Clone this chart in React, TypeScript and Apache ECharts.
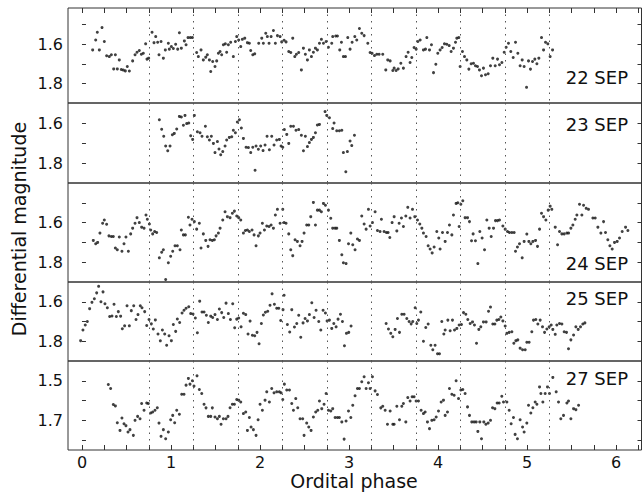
import React, { useEffect, useRef } from "react";
import * as echarts from "echarts";

const sep22: number[][] = [[0.120,1.629],[0.154,1.578],[0.172,1.539],[0.195,1.629],[0.225,1.515],[0.251,1.586],[0.277,1.659],[0.307,1.663],[0.330,1.654],[0.356,1.726],[0.375,1.654],[0.397,1.726],[0.419,1.680],[0.442,1.729],[0.464,1.732],[0.487,1.736],[0.509,1.714],[0.532,1.737],[0.569,1.685],[0.596,1.654],[0.618,1.641],[0.644,1.632],[0.667,1.651],[0.689,1.646],[0.715,1.598],[0.730,1.676],[0.749,1.671],[0.787,1.539],[0.809,1.592],[0.828,1.561],[0.850,1.590],[0.865,1.654],[0.888,1.586],[0.914,1.671],[0.936,1.629],[0.970,1.595],[0.981,1.625],[1.004,1.612],[1.026,1.622],[1.052,1.600],[1.075,1.625],[1.094,1.541],[1.116,1.620],[1.150,1.583],[1.169,1.603],[1.191,1.566],[1.217,1.566],[1.240,1.566],[1.288,1.642],[1.307,1.663],[1.337,1.629],[1.363,1.680],[1.390,1.666],[1.408,1.654],[1.431,1.680],[1.446,1.739],[1.468,1.688],[1.494,1.714],[1.513,1.685],[1.532,1.646],[1.551,1.637],[1.569,1.654],[1.588,1.603],[1.610,1.598],[1.625,1.641],[1.644,1.603],[1.670,1.590],[1.700,1.663],[1.723,1.586],[1.738,1.561],[1.760,1.578],[1.783,1.612],[1.801,1.575],[1.828,1.569],[1.858,1.592],[1.880,1.595],[1.895,1.632],[1.918,1.654],[1.940,1.649],[1.985,1.595],[2.019,1.569],[2.037,1.595],[2.064,1.544],[2.082,1.561],[2.101,1.595],[2.124,1.561],[2.150,1.530],[2.172,1.595],[2.195,1.556],[2.225,1.561],[2.243,1.588],[2.270,1.580],[2.292,1.588],[2.322,1.637],[2.345,1.642],[2.367,1.569],[2.390,1.663],[2.408,1.651],[2.434,1.642],[2.464,1.731],[2.487,1.620],[2.509,1.651],[2.532,1.680],[2.554,1.629],[2.577,1.663],[2.599,1.641],[2.622,1.620],[2.644,1.629],[2.667,1.595],[2.689,1.575],[2.712,1.595],[2.742,1.586],[2.768,1.615],[2.805,1.595],[2.816,1.561],[2.850,1.558],[2.869,1.558],[2.895,1.629],[2.914,1.590],[2.936,1.663],[2.959,1.663],[2.985,1.566],[3.011,1.625],[3.034,1.590],[3.064,1.561],[3.086,1.578],[3.116,1.520],[3.142,1.544],[3.169,1.556],[3.210,1.595],[3.236,1.642],[3.258,1.646],[3.285,1.658],[3.311,1.651],[3.337,1.651],[3.378,1.651],[3.412,1.731],[3.434,1.680],[3.461,1.685],[3.491,1.734],[3.506,1.722],[3.528,1.734],[3.551,1.726],[3.581,1.697],[3.610,1.722],[3.640,1.663],[3.663,1.641],[3.685,1.693],[3.704,1.668],[3.730,1.617],[3.753,1.625],[3.772,1.586],[3.798,1.578],[3.835,1.629],[3.858,1.625],[3.873,1.566],[3.903,1.629],[3.925,1.603],[3.948,1.745],[3.974,1.702],[3.996,1.646],[4.022,1.629],[4.045,1.617],[4.071,1.598],[4.097,1.600],[4.124,1.607],[4.146,1.637],[4.172,1.620],[4.195,1.590],[4.210,1.569],[4.232,1.566],[4.247,1.714],[4.273,1.637],[4.296,1.663],[4.322,1.680],[4.345,1.727],[4.371,1.700],[4.397,1.697],[4.419,1.710],[4.442,1.714],[4.464,1.731],[4.487,1.761],[4.509,1.722],[4.532,1.756],[4.562,1.751],[4.588,1.710],[4.614,1.671],[4.641,1.710],[4.667,1.676],[4.689,1.705],[4.716,1.693],[4.742,1.641],[4.764,1.615],[4.790,1.595],[4.816,1.637],[4.843,1.668],[4.869,1.590],[4.895,1.646],[4.921,1.710],[4.944,1.680],[4.966,1.714],[4.993,1.820],[5.015,1.685],[5.037,1.727],[5.060,1.688],[5.086,1.676],[5.109,1.700],[5.131,1.671],[5.161,1.566],[5.184,1.629],[5.206,1.590],[5.232,1.598],[5.258,1.663],[5.285,1.629]];

const sep23: number[][] = [[0.869,1.584],[0.895,1.631],[0.918,1.666],[0.940,1.715],[0.963,1.739],[0.989,1.715],[1.015,1.659],[1.037,1.652],[1.064,1.630],[1.094,1.567],[1.116,1.570],[1.139,1.611],[1.157,1.562],[1.176,1.603],[1.199,1.600],[1.221,1.664],[1.243,1.682],[1.262,1.562],[1.296,1.644],[1.326,1.649],[1.348,1.666],[1.386,1.616],[1.408,1.669],[1.431,1.685],[1.453,1.666],[1.476,1.702],[1.494,1.748],[1.521,1.693],[1.539,1.730],[1.558,1.759],[1.581,1.743],[1.607,1.715],[1.625,1.685],[1.655,1.672],[1.682,1.669],[1.700,1.636],[1.723,1.649],[1.745,1.595],[1.768,1.584],[1.790,1.625],[1.813,1.677],[1.843,1.721],[1.869,1.723],[1.895,1.748],[1.918,1.721],[1.944,1.836],[1.955,1.715],[1.981,1.731],[2.007,1.715],[2.034,1.738],[2.056,1.710],[2.079,1.666],[2.105,1.734],[2.131,1.666],[2.157,1.710],[2.187,1.685],[2.217,1.682],[2.236,1.715],[2.255,1.721],[2.273,1.633],[2.300,1.657],[2.322,1.702],[2.345,1.616],[2.375,1.616],[2.404,1.636],[2.434,1.633],[2.464,1.661],[2.487,1.739],[2.509,1.666],[2.532,1.718],[2.554,1.698],[2.577,1.682],[2.599,1.672],[2.622,1.649],[2.644,1.610],[2.667,1.607],[2.730,1.543],[2.749,1.562],[2.779,1.574],[2.816,1.628],[2.831,1.600],[2.861,1.639],[2.891,1.639],[2.918,1.636],[2.936,1.748],[2.963,1.844],[2.981,1.743],[3.011,1.690],[3.030,1.713],[3.060,1.661]];

const sep24: number[][] = [[0.127,1.690],[0.154,1.707],[0.176,1.700],[0.202,1.653],[0.232,1.603],[0.251,1.587],[0.277,1.608],[0.303,1.667],[0.330,1.670],[0.352,1.670],[0.375,1.728],[0.397,1.737],[0.419,1.673],[0.449,1.745],[0.472,1.707],[0.494,1.673],[0.521,1.745],[0.547,1.657],[0.569,1.628],[0.596,1.603],[0.618,1.575],[0.644,1.600],[0.670,1.623],[0.697,1.628],[0.719,1.562],[0.734,1.583],[0.757,1.607],[0.772,1.637],[0.794,1.657],[0.816,1.645],[0.839,1.650],[0.869,1.778],[0.895,1.750],[0.914,1.737],[0.940,1.887],[0.970,1.803],[0.996,1.770],[1.019,1.745],[1.045,1.717],[1.071,1.717],[1.101,1.737],[1.116,1.637],[1.139,1.662],[1.161,1.662],[1.195,1.573],[1.213,1.612],[1.236,1.583],[1.262,1.595],[1.288,1.633],[1.318,1.603],[1.337,1.728],[1.363,1.657],[1.390,1.690],[1.416,1.720],[1.438,1.687],[1.464,1.690],[1.487,1.687],[1.506,1.667],[1.532,1.653],[1.551,1.628],[1.581,1.587],[1.607,1.545],[1.633,1.570],[1.663,1.575],[1.689,1.553],[1.712,1.542],[1.738,1.567],[1.760,1.575],[1.783,1.587],[1.813,1.653],[1.835,1.640],[1.858,1.637],[1.880,1.645],[1.910,1.637],[1.933,1.662],[1.955,1.717],[1.981,1.667],[2.000,1.653],[2.026,1.603],[2.049,1.637],[2.075,1.617],[2.101,1.620],[2.124,1.612],[2.150,1.628],[2.172,1.562],[2.195,1.533],[2.225,1.603],[2.255,1.533],[2.270,1.600],[2.292,1.603],[2.322,1.657],[2.345,1.737],[2.367,1.767],[2.393,1.687],[2.419,1.695],[2.449,1.717],[2.472,1.695],[2.494,1.653],[2.524,1.612],[2.547,1.612],[2.569,1.570],[2.599,1.498],[2.622,1.612],[2.644,1.537],[2.667,1.537],[2.689,1.545],[2.712,1.503],[2.734,1.512],[2.768,1.537],[2.794,1.578],[2.816,1.628],[2.843,1.628],[2.861,1.628],[2.891,1.690],[2.918,1.762],[2.936,1.803],[2.966,1.807],[2.993,1.707],[3.019,1.653],[3.041,1.712],[3.067,1.737],[3.094,1.683],[3.116,1.690],[3.142,1.567],[3.169,1.607],[3.191,1.633],[3.217,1.533],[3.236,1.617],[3.262,1.600],[3.292,1.545],[3.318,1.640],[3.348,1.645],[3.363,1.583],[3.393,1.645],[3.419,1.650],[3.438,1.650],[3.457,1.675],[3.483,1.600],[3.506,1.570],[3.536,1.642],[3.562,1.603],[3.588,1.577],[3.610,1.620],[3.637,1.567],[3.659,1.523],[3.685,1.577],[3.712,1.533],[3.738,1.570],[3.768,1.587],[3.794,1.607],[3.817,1.628],[3.835,1.653],[3.865,1.670],[3.888,1.717],[3.910,1.733],[3.933,1.753],[3.955,1.723],[3.985,1.645],[4.007,1.678],[4.022,1.733],[4.049,1.650],[4.079,1.695],[4.105,1.650],[4.127,1.612],[4.154,1.662],[4.172,1.562],[4.202,1.503],[4.221,1.500],[4.236,1.620],[4.255,1.507],[4.277,1.490],[4.303,1.575],[4.330,1.575],[4.352,1.595],[4.375,1.692],[4.393,1.657],[4.419,1.692],[4.446,1.807],[4.468,1.645],[4.494,1.678],[4.521,1.737],[4.547,1.587],[4.573,1.628],[4.596,1.670],[4.622,1.628],[4.644,1.590],[4.667,1.590],[4.689,1.587],[4.727,1.617],[4.753,1.633],[4.779,1.645],[4.801,1.650],[4.828,1.650],[4.854,1.650],[4.869,1.745],[4.891,1.723],[4.914,1.707],[4.944,1.778],[4.966,1.695],[4.996,1.658],[5.019,1.695],[5.041,1.707],[5.064,1.695],[5.094,1.690],[5.116,1.720],[5.139,1.633],[5.161,1.553],[5.184,1.570],[5.210,1.587],[5.236,1.537],[5.258,1.517],[5.277,1.533],[5.315,1.623],[5.341,1.712],[5.363,1.645],[5.390,1.657],[5.416,1.657],[5.446,1.653],[5.465,1.653],[5.491,1.628],[5.513,1.612],[5.539,1.583],[5.558,1.562],[5.588,1.507],[5.614,1.562],[5.633,1.512],[5.663,1.528],[5.689,1.533],[5.738,1.577],[5.764,1.577],[5.794,1.623],[5.828,1.653],[5.858,1.595],[5.880,1.650],[5.906,1.687],[5.929,1.717],[5.955,1.733],[5.981,1.700],[6.011,1.695],[6.037,1.678],[6.067,1.645],[6.105,1.623],[6.131,1.640]];

const sep25: number[][] = [[-0.015,1.797],[0.011,1.743],[0.037,1.718],[0.060,1.700],[0.086,1.635],[0.112,1.603],[0.139,1.585],[0.165,1.555],[0.187,1.522],[0.213,1.600],[0.236,1.550],[0.258,1.610],[0.285,1.630],[0.311,1.675],[0.337,1.672],[0.360,1.613],[0.386,1.675],[0.408,1.650],[0.434,1.673],[0.453,1.737],[0.479,1.722],[0.506,1.620],[0.532,1.722],[0.554,1.645],[0.581,1.620],[0.607,1.690],[0.629,1.665],[0.655,1.620],[0.674,1.630],[0.704,1.650],[0.727,1.720],[0.753,1.690],[0.779,1.712],[0.801,1.738],[0.824,1.692],[0.854,1.763],[0.880,1.798],[0.903,1.743],[0.929,1.763],[0.951,1.820],[0.978,1.772],[1.004,1.797],[1.026,1.715],[1.052,1.750],[1.071,1.687],[1.097,1.705],[1.124,1.657],[1.146,1.643],[1.169,1.633],[1.199,1.625],[1.221,1.660],[1.247,1.662],[1.273,1.682],[1.296,1.757],[1.322,1.597],[1.348,1.652],[1.371,1.652],[1.397,1.668],[1.419,1.705],[1.446,1.673],[1.468,1.680],[1.494,1.665],[1.521,1.690],[1.543,1.637],[1.569,1.655],[1.592,1.680],[1.618,1.607],[1.644,1.660],[1.667,1.690],[1.693,1.610],[1.715,1.732],[1.738,1.688],[1.760,1.682],[1.787,1.727],[1.813,1.658],[1.839,1.665],[1.865,1.763],[1.888,1.698],[1.914,1.770],[1.940,1.772],[1.966,1.755],[1.989,1.813],[2.015,1.710],[2.037,1.667],[2.060,1.653],[2.086,1.648],[2.112,1.618],[2.135,1.560],[2.161,1.613],[2.187,1.633],[2.210,1.633],[2.232,1.695],[2.258,1.640],[2.270,1.567],[2.307,1.715],[2.333,1.753],[2.356,1.640],[2.386,1.728],[2.412,1.710],[2.434,1.668],[2.457,1.780],[2.483,1.707],[2.506,1.685],[2.532,1.697],[2.554,1.665],[2.581,1.605],[2.607,1.680],[2.629,1.643],[2.659,1.700],[2.682,1.743],[2.708,1.643],[2.734,1.657],[2.753,1.697],[2.779,1.693],[2.805,1.735],[2.828,1.710],[2.854,1.727],[2.876,1.688],[2.903,1.663],[2.925,1.700],[2.948,1.823],[2.970,1.760],[2.996,1.755],[3.022,1.723],[3.416,1.710],[3.442,1.738],[3.468,1.760],[3.491,1.777],[3.517,1.740],[3.543,1.685],[3.566,1.755],[3.592,1.663],[3.618,1.663],[3.648,1.685],[3.674,1.700],[3.697,1.712],[3.715,1.700],[3.742,1.630],[3.760,1.710],[3.779,1.693],[3.805,1.652],[3.835,1.800],[3.861,1.730],[3.888,1.713],[3.918,1.820],[3.940,1.843],[3.966,1.820],[3.993,1.863],[4.015,1.863],[4.041,1.700],[4.064,1.763],[4.079,1.743],[4.109,1.693],[4.135,1.747],[4.161,1.693],[4.184,1.743],[4.210,1.735],[4.236,1.718],[4.262,1.715],[4.285,1.655],[4.311,1.663],[4.333,1.690],[4.360,1.710],[4.386,1.702],[4.408,1.718],[4.431,1.810],[4.457,1.740],[4.479,1.727],[4.509,1.702],[4.539,1.702],[4.566,1.648],[4.588,1.627],[4.614,1.713],[4.637,1.713],[4.659,1.693],[4.682,1.690],[4.704,1.677],[4.727,1.697],[4.753,1.723],[4.772,1.760],[4.798,1.755],[4.828,1.752],[4.850,1.810],[4.873,1.797],[4.895,1.793],[4.921,1.835],[4.948,1.843],[4.978,1.843],[4.996,1.805],[5.022,1.805],[5.052,1.752],[5.071,1.693],[5.097,1.690],[5.120,1.713],[5.146,1.693],[5.172,1.727],[5.195,1.755],[5.221,1.738],[5.247,1.727],[5.270,1.718],[5.288,1.740],[5.315,1.765],[5.333,1.718],[5.363,1.710],[5.390,1.713],[5.416,1.752],[5.442,1.755],[5.464,1.838],[5.491,1.793],[5.521,1.768],[5.547,1.727],[5.573,1.740],[5.599,1.727],[5.625,1.713],[5.648,1.707]];

const sep27: number[][] = [[0.296,1.519],[0.322,1.539],[0.352,1.620],[0.375,1.627],[0.397,1.712],[0.427,1.751],[0.449,1.688],[0.472,1.717],[0.494,1.727],[0.517,1.759],[0.539,1.747],[0.577,1.776],[0.596,1.700],[0.625,1.680],[0.652,1.692],[0.670,1.615],[0.697,1.649],[0.727,1.612],[0.745,1.615],[0.772,1.663],[0.794,1.658],[0.820,1.649],[0.846,1.636],[0.865,1.714],[0.888,1.781],[0.914,1.747],[0.940,1.793],[0.970,1.759],[0.996,1.697],[1.019,1.675],[1.041,1.712],[1.064,1.649],[1.094,1.669],[1.120,1.568],[1.146,1.568],[1.169,1.522],[1.195,1.488],[1.213,1.517],[1.240,1.500],[1.258,1.527],[1.292,1.475],[1.318,1.544],[1.345,1.564],[1.371,1.619],[1.393,1.637],[1.419,1.680],[1.446,1.680],[1.464,1.637],[1.494,1.683],[1.521,1.692],[1.543,1.680],[1.562,1.720],[1.588,1.692],[1.618,1.692],[1.640,1.680],[1.663,1.636],[1.689,1.619],[1.712,1.619],[1.738,1.595],[1.760,1.598],[1.783,1.607],[1.813,1.666],[1.839,1.658],[1.858,1.751],[1.880,1.686],[1.899,1.734],[1.925,1.747],[1.955,1.776],[1.978,1.697],[2.000,1.619],[2.026,1.649],[2.056,1.598],[2.075,1.556],[2.105,1.607],[2.131,1.539],[2.157,1.561],[2.187,1.556],[2.217,1.556],[2.236,1.561],[2.255,1.595],[2.273,1.517],[2.300,1.547],[2.330,1.547],[2.356,1.615],[2.375,1.649],[2.401,1.590],[2.423,1.636],[2.449,1.692],[2.479,1.692],[2.494,1.776],[2.524,1.714],[2.547,1.734],[2.573,1.751],[2.599,1.683],[2.625,1.658],[2.648,1.649],[2.667,1.602],[2.693,1.641],[2.719,1.619],[2.742,1.564],[2.768,1.649],[2.794,1.653],[2.816,1.641],[2.843,1.686],[2.869,1.686],[2.891,1.686],[2.918,1.708],[2.944,1.795],[2.966,1.703],[2.993,1.653],[3.019,1.686],[3.041,1.624],[3.067,1.576],[3.094,1.539],[3.116,1.539],[3.142,1.505],[3.169,1.480],[3.191,1.539],[3.217,1.510],[3.236,1.539],[3.262,1.480],[3.292,1.551],[3.318,1.569],[3.356,1.637],[3.378,1.629],[3.405,1.649],[3.431,1.720],[3.461,1.653],[3.491,1.720],[3.506,1.720],[3.536,1.629],[3.566,1.697],[3.592,1.629],[3.610,1.615],[3.637,1.708],[3.659,1.585],[3.685,1.602],[3.708,1.581],[3.730,1.581],[3.753,1.602],[3.779,1.602],[3.809,1.649],[3.835,1.666],[3.854,1.658],[3.880,1.708],[3.903,1.742],[3.929,1.700],[3.955,1.697],[3.978,1.683],[4.004,1.653],[4.034,1.607],[4.060,1.598],[4.079,1.675],[4.105,1.658],[4.127,1.539],[4.154,1.568],[4.180,1.573],[4.202,1.500],[4.229,1.590],[4.255,1.547],[4.277,1.544],[4.303,1.564],[4.330,1.632],[4.352,1.675],[4.378,1.708],[4.404,1.708],[4.427,1.708],[4.446,1.756],[4.468,1.708],[4.487,1.793],[4.513,1.708],[4.536,1.720],[4.562,1.714],[4.588,1.700],[4.611,1.636],[4.637,1.641],[4.663,1.612],[4.685,1.612],[4.715,1.578],[4.734,1.607],[4.772,1.607],[4.798,1.649],[4.820,1.717],[4.846,1.686],[4.865,1.771],[4.891,1.793],[4.921,1.697],[4.948,1.734],[4.966,1.759],[4.996,1.714],[5.015,1.624],[5.041,1.663],[5.064,1.636],[5.090,1.607],[5.109,1.619],[5.139,1.531],[5.154,1.564],[5.176,1.607],[5.202,1.564],[5.228,1.531],[5.251,1.564],[5.288,1.483],[5.326,1.556],[5.352,1.607],[5.378,1.692],[5.408,1.675],[5.446,1.612],[5.464,1.602],[5.491,1.692],[5.521,1.641],[5.547,1.646],[5.577,1.624]];

const panelNames = ["22 SEP", "23 SEP", "24 SEP", "25 SEP", "27 SEP"];
const panelData = [sep22, sep23, sep24, sep25, sep27];
const yMin = [1.415, 1.5, 1.4, 1.5, 1.4];
const yMax = [1.9, 1.9, 1.9, 1.9, 1.85];
const yTickValues = [[1.5, 1.6, 1.7, 1.8], [1.6, 1.7, 1.8], [1.5, 1.6, 1.7, 1.8], [1.6, 1.7, 1.8], [1.5, 1.6, 1.7, 1.8]];
const yLabelValues = [[1.6, 1.8], [1.6, 1.8], [1.6, 1.8], [1.6, 1.8], [1.5, 1.7]];
const xTickValues = [0, 0.25, 0.5, 0.75, 1, 1.25, 1.5, 1.75, 2, 2.25, 2.5, 2.75, 3, 3.25, 3.5, 3.75, 4, 4.25, 4.5, 4.75, 5, 5.25, 5.5, 5.75, 6, 6.25];
const xLabelValues = [0, 1, 2, 3, 4, 5, 6];
const guidePhases = [0.75, 1.25, 1.75, 2.25, 2.75, 3.25, 3.75, 4.25, 4.75, 5.25];
const xMin = -0.157;
const xMax = 6.284;

// layout (pixels)
const gridTops = [8, 103, 183, 282, 361];
const gridHeights = [95, 80, 99, 79, 89];
const labelY = [79, 126, 265, 300, 380];
const FONT = "DejaVu Sans";

export default function App() {
  const ref = useRef<HTMLDivElement>(null);
  useEffect(() => {
    if (!ref.current) return;
    const chart = echarts.init(ref.current, undefined, { renderer: "svg" });
    const grids: any[] = [];
    const xAxes: any[] = [];
    const yAxes: any[] = [];
    const series: any[] = [];
    const graphics: any[] = [];
    for (let i = 0; i < 5; i++) {
      grids.push({
        left: 68, width: 573.5, top: gridTops[i], height: gridHeights[i],
        show: true, borderColor: "#333", borderWidth: 1, backgroundColor: "transparent",
      });
      const showX = i === 0 || i === 4;
      xAxes.push({
        gridIndex: i, type: "value", min: xMin, max: xMax,
        position: i === 0 ? "top" : "bottom",
        axisLine: { show: false },
        axisTick: { show: showX, inside: true, length: 5, customValues: xTickValues, lineStyle: { color: "#333" } },
        axisLabel: {
          show: i === 4, customValues: xLabelValues, fontSize: 16, fontFamily: FONT, color: "#111", margin: 4,
          formatter: (v: number) => String(Math.round(v)),
        },
        splitLine: { show: false },
      });
      const yBase = {
        gridIndex: i, type: "value", inverse: true, min: yMin[i], max: yMax[i],
        axisLine: { show: false },
        splitLine: { show: false },
      };
      yAxes.push({
        ...yBase, position: "left",
        axisTick: { show: true, inside: true, length: 4, customValues: yTickValues[i], lineStyle: { color: "#333" } },
        axisLabel: {
          show: true, customValues: yLabelValues[i], fontSize: 16, fontFamily: FONT, color: "#111", margin: 5,
          formatter: (v: number) => v.toFixed(1),
        },
      });
      yAxes.push({
        ...yBase, position: "right",
        axisTick: { show: true, inside: true, length: 4, customValues: yTickValues[i], lineStyle: { color: "#333" } },
        axisLabel: { show: false },
      });
      series.push({
        type: "scatter", xAxisIndex: i, yAxisIndex: 2 * i,
        data: panelData[i], symbol: "circle", symbolSize: 3,
        itemStyle: { color: "#111" }, silent: true,
        markLine: {
          silent: true, symbol: ["none", "none"], label: { show: false },
          lineStyle: { type: [1.5, 5], color: "#555", width: 1 },
          emphasis: { disabled: true },
          data: guidePhases.map((v) => ({ xAxis: v })),
        },
      });
      graphics.push({
        type: "text", right: 643 - 628, top: labelY[i] - 11,
        style: { text: panelNames[i], font: `18px "${FONT}"`, fill: "#111" },
      });
    }
    graphics.push({
      type: "text", x: 19, y: 229, rotation: Math.PI / 2,
      style: { text: "Differential magnitude", font: `19px "${FONT}"`, fill: "#111", textAlign: "center", textVerticalAlign: "middle" },
    });
    graphics.push({
      type: "text", x: 354, y: 481,
      style: { text: "Ordital phase", font: `19px "${FONT}"`, fill: "#111", textAlign: "center", textVerticalAlign: "middle" },
    });
    chart.setOption({
      animation: false,
      backgroundColor: "#fff",
      grid: grids, xAxis: xAxes, yAxis: yAxes, series, graphic: graphics,
    });
    return () => chart.dispose();
  }, []);
  return <div ref={ref} style={{ position: "fixed", left: 0, top: 0, width: 643, height: 493 }} />;
}
